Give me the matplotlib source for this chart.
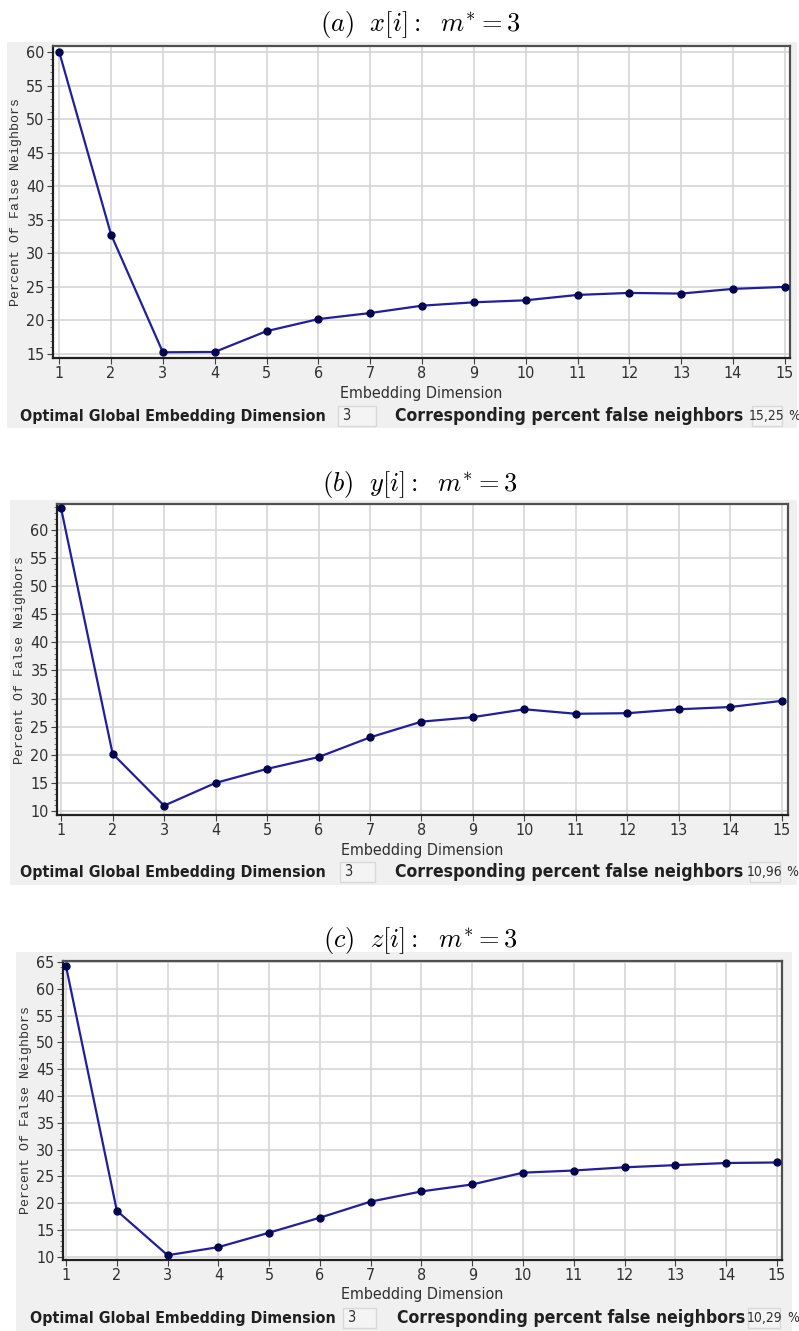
import matplotlib
matplotlib.use("Agg")
import matplotlib.pyplot as plt
from matplotlib.patches import Rectangle
from matplotlib.ticker import MultipleLocator

plt.rcParams["mathtext.fontset"] = "cm"
plt.rcParams["font.family"] = ["DejaVu Sans"]
plt.rcParams["font.stretch"] = "condensed"

dims = list(range(1, 16))
x_fnn = [60.0, 32.8, 15.25, 15.3, 18.4, 20.2, 21.1, 22.2, 22.7, 23.0, 23.8, 24.1, 24.0, 24.7, 25.0]
y_fnn = [63.8, 20.2, 10.96, 15.0, 17.5, 19.6, 23.1, 25.9, 26.7, 28.1, 27.3, 27.4, 28.1, 28.5, 29.6]
z_fnn = [64.2, 18.6, 10.29, 11.8, 14.5, 17.3, 20.3, 22.2, 23.5, 25.7, 26.1, 26.7, 27.1, 27.5, 27.6]

titles = [r"$(a)\ \ x[i]:\ \ m^{*}=3$", r"$(b)\ \ y[i]:\ \ m^{*}=3$", r"$(c)\ \ z[i]:\ \ m^{*}=3$"]
optimal_dim = ["3", "3", "3"]
percent_fnn = ["15,25", "10,96", "10,29"]
yticks = [list(range(15, 61, 5)), list(range(10, 61, 5)), list(range(10, 66, 5))]
ylims = [(14.4, 60.9), (9.3, 64.6), (9.4, 65.2)]
xlims = [(0.88, 15.1), (0.92, 15.12), (0.94, 15.1)]

W, H = 799, 1331
fig = plt.figure(figsize=(W / 100, H / 100), dpi=100)
fig.patch.set_facecolor("white")

# pixel layout of each panel: gray box, axes box, title y, info y, info x positions
panels = [
    dict(bg=(7, 42, 797, 428), ax=(53, 46, 790, 358), ty=25, info=416,
         ox=20, bx=(338, 376), cx=395, px=(752, 782), pc=788),
    dict(bg=(10, 500, 797, 885), ax=(57, 504, 788, 815), ty=484, info=872,
         ox=20, bx=(340, 375), cx=395, px=(750, 780), pc=786),
    dict(bg=(16, 952, 792, 1331), ax=(63, 961, 782, 1260), ty=941, info=1318,
         ox=30, bx=(343, 376), cx=397, px=(748, 780), pc=787),
]

def fx(px):
    return px / W

def fy(py):
    return 1 - py / H

series = [x_fnn, y_fnn, z_fnn]
for k, p in enumerate(panels):
    x0, y0, x1, y1 = p["bg"]
    fig.patches.append(Rectangle((fx(x0), fy(y1)), fx(x1 - x0), (y1 - y0) / H,
                                 transform=fig.transFigure, facecolor="#f0f0f0",
                                 edgecolor="none", zorder=-5))
    fig.text(0.526, fy(p["ty"]), titles[k], ha="center", va="center", fontsize=19)

    a0, b0, a1, b1 = p["ax"]
    ax = fig.add_axes([fx(a0), fy(b1), fx(a1 - a0), (b1 - b0) / H])
    ax.set_zorder(2)
    ax.set_facecolor("white")
    ax.plot(dims, series[k], color="#1f1f9f", lw=1.6, marker="o", ms=5,
            mfc="#05054f", mec="#05054f", zorder=3, clip_on=False)
    ax.set_xlim(*xlims[k])
    ax.set_ylim(*ylims[k])
    ax.set_xticks(dims)
    ax.set_yticks(yticks[k])
    ax.yaxis.set_minor_locator(MultipleLocator(1))
    ax.grid(True, which="major", color="#d6d6d6", lw=1.2)
    ax.set_axisbelow(True)
    for s in ["left", "bottom"]:
        ax.spines[s].set_color("#202020")
        ax.spines[s].set_linewidth(1.6)
    for s in ["top", "right"]:
        ax.spines[s].set_color("#505050")
        ax.spines[s].set_linewidth(1.6)
    ax.tick_params(axis="both", which="major", labelsize=11.5, length=4, width=0.8,
                   color="#404040", labelcolor="#303030", pad=2)
    ax.tick_params(axis="y", which="minor", length=2, width=0.6, color="#606060")
    ax.set_xlabel("Embedding Dimension", fontsize=11.5, color="#303030", labelpad=3)
    ax.set_ylabel("Percent Of False Neighbors", fontsize=9.5, color="#303030",
                  family=["Liberation Mono", "DejaVu Sans Mono"], labelpad=3)

    iy = fy(p["info"])
    fig.text(fx(p["ox"]), iy, "Optimal Global Embedding Dimension", ha="left",
             va="center", fontsize=11.4, fontweight="bold", color="#202020")
    bxa, bxb = p["bx"]
    fig.patches.append(Rectangle((fx(bxa), iy - 10 / H), fx(bxb - bxa), 20 / H,
                                 transform=fig.transFigure, facecolor="#f4f4f4",
                                 edgecolor="#d8d8d8", lw=1, zorder=1))
    fig.text(fx(bxa + 4), iy, optimal_dim[k], ha="left", va="center",
             fontsize=10.5, color="#303030")
    fig.text(fx(p["cx"]), iy, "Corresponding percent false neighbors", ha="left",
             va="center", fontsize=12.6, fontweight="bold", color="#202020")
    pxa, pxb = p["px"]
    fig.patches.append(Rectangle((fx(pxa), iy - 10 / H), fx(pxb - pxa), 20 / H,
                                 transform=fig.transFigure, facecolor="#f4f4f4",
                                 edgecolor="#d8d8d8", lw=1, zorder=1))
    fig.text(fx((pxa + pxb) / 2), iy, percent_fnn[k], ha="center", va="center",
             fontsize=10, color="#303030")
    fig.text(fx(p["pc"]), iy, "%", ha="left", va="center", fontsize=10,
             color="#303030")

fig.savefig("out.png", dpi=100, facecolor=fig.get_facecolor())
